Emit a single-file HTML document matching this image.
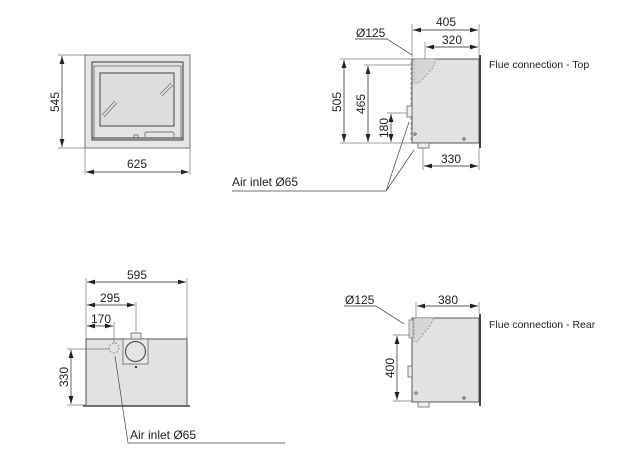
<!DOCTYPE html>
<html><head><style>
html,body{margin:0;padding:0;background:#fff;}
svg{display:block;}
text{font-family:"Liberation Sans","DejaVu Sans",sans-serif;fill:#222;}
.d{font-size:12px;}
.l{font-size:10.5px;}
.ai{font-size:12px;}
</style></head><body>
<svg width="624" height="460" viewBox="0 0 624 460" xmlns="http://www.w3.org/2000/svg">
<defs>
<marker id="a" viewBox="0 0 10 6" refX="10" refY="3" markerWidth="8" markerHeight="5" orient="auto-start-reverse" markerUnits="userSpaceOnUse"><path d="M0,0 L10,3 L0,6 z" fill="#222"/></marker>
</defs>
<g stroke="#333" stroke-width="0.7" fill="none">
<rect x="85" y="55" width="105" height="93" fill="#e6e6e6" stroke="#777" stroke-width="1"/>
<rect x="92" y="62" width="91" height="78" fill="#e0e0e0" stroke="#555" stroke-width="1.2"/>
<rect x="94" y="66" width="87" height="72" fill="#e4e4e4" stroke="#666" stroke-width="0.8"/>
<rect x="100" y="73" width="74" height="53" fill="#ddd" stroke="#555" stroke-width="1.1"/>
<path d="M102,115 L115,101 M104,117 L117,103 M160,94 L171,83 M162,96 L173,85" stroke="#666"/>
<path d="M92,138 H183" stroke="#555" stroke-width="1.2"/>
<path d="M145,137 V133 Q145,132 147,132 H172 Q174,132 174,134 V137" stroke="#555"/>
<rect x="134" y="135" width="4" height="3" stroke="#555"/>
<path d="M58,55 H85 M58,148 H85" stroke="#777"/>
<line x1="62" y1="56" x2="62" y2="147" stroke="#222" marker-start="url(#a)" marker-end="url(#a)"/>
<path d="M85,148 V175 M190,148 V175" stroke="#777"/>
<line x1="86" y1="172" x2="189" y2="172" stroke="#222" marker-start="url(#a)" marker-end="url(#a)"/>
<path d="M232,191 H386 L409,122 M386,191 L414,150" stroke="#444"/>
<rect x="412" y="59" width="67" height="84" fill="#e2e2e2" stroke="#555" stroke-width="1"/>
<path d="M414,59 H436 L433,68 L419,83 L414,83 Z" fill="#d6d6d6" stroke="#888" stroke-dasharray="2,1.5"/>
<line x1="480" y1="55" x2="480" y2="148" stroke="#444" stroke-width="2"/>
<line x1="411" y1="62" x2="411" y2="140" stroke="#888" stroke-dasharray="3,2"/>
<rect x="407" y="106" width="5" height="11" fill="#eee" stroke="#555"/>
<rect x="418" y="143" width="11" height="5" fill="#eee" stroke="#555"/>
<circle cx="415" cy="134" r="1.2"/><circle cx="464" cy="139" r="1.2"/>
<path d="M412,24 V57 M479,24 V57 M425,42 V59" stroke="#777"/>
<line x1="413" y1="30" x2="478" y2="30" stroke="#222" marker-start="url(#a)" marker-end="url(#a)"/>
<line x1="426" y1="47" x2="478" y2="47" stroke="#222" marker-start="url(#a)" marker-end="url(#a)"/>
<path d="M355,39 H387 L412,55" stroke="#333"/>
<path d="M340,59 H412 M364,65 H412 M387,113 H407 M340,143 H412" stroke="#777"/>
<line x1="344" y1="60" x2="344" y2="142" stroke="#222" marker-start="url(#a)" marker-end="url(#a)"/>
<line x1="368" y1="66" x2="368" y2="142" stroke="#222" marker-start="url(#a)" marker-end="url(#a)"/>
<line x1="391" y1="114" x2="391" y2="142" stroke="#222" marker-start="url(#a)" marker-end="url(#a)"/>
<path d="M423,148 V170 M479,148 V170" stroke="#777"/>
<line x1="424" y1="166" x2="478" y2="166" stroke="#222" marker-start="url(#a)" marker-end="url(#a)"/>
<rect x="86" y="339" width="101" height="67" fill="#e2e2e2" stroke="#555" stroke-width="1"/>
<line x1="83" y1="406" x2="190" y2="406" stroke="#444" stroke-width="1.5"/>
<rect x="123" y="339" width="25" height="25" fill="#e8e8e8" stroke="#555"/>
<circle cx="135.5" cy="351.5" r="10" fill="#e4e4e4" stroke="#555" stroke-width="1.2"/>
<rect x="131" y="333" width="10" height="6" fill="#e8e8e8" stroke="#555"/>
<circle cx="114" cy="348" r="5" stroke="#777" stroke-dasharray="2,1.5"/>
<circle cx="136" cy="367" r="0.8" fill="#333"/>
<path d="M86,278 V339 M187,278 V339 M136,302 V333 M114,322 V343" stroke="#777"/>
<line x1="87" y1="282" x2="186" y2="282" stroke="#222" marker-start="url(#a)" marker-end="url(#a)"/>
<line x1="87" y1="305" x2="135" y2="305" stroke="#222" marker-start="url(#a)" marker-end="url(#a)"/>
<line x1="87" y1="326" x2="113" y2="326" stroke="#222" marker-start="url(#a)" marker-end="url(#a)"/>
<path d="M67,349 H110 M67,405 H86" stroke="#777"/>
<line x1="71" y1="350" x2="71" y2="404" stroke="#222" marker-start="url(#a)" marker-end="url(#a)"/>
<path d="M285,443 H128 L115,356" stroke="#444"/>
<rect x="412" y="318" width="67" height="84" fill="#e2e2e2" stroke="#555" stroke-width="1"/>
<path d="M414,318 H434 L430,326 L417,342 L414,342 Z" fill="#d6d6d6" stroke="#888" stroke-dasharray="2,1.5"/>
<rect x="409" y="320" width="4" height="18" fill="#ddd" stroke="#777"/>
<line x1="480" y1="314" x2="480" y2="406" stroke="#444" stroke-width="2"/>
<rect x="408" y="366" width="4" height="11" fill="#eee" stroke="#555"/>
<rect x="418" y="402" width="11" height="5" fill="#eee" stroke="#555"/>
<circle cx="416" cy="393" r="1.2"/><circle cx="464" cy="398" r="1.2"/>
<path d="M416,302 V318 M479,302 V314" stroke="#777"/>
<line x1="417" y1="306" x2="478" y2="306" stroke="#222" marker-start="url(#a)" marker-end="url(#a)"/>
<path d="M344,306 H376 L404,324" stroke="#333"/>
<path d="M393,335 H410 M393,401 H412" stroke="#777"/>
<line x1="397" y1="336" x2="397" y2="400" stroke="#222" marker-start="url(#a)" marker-end="url(#a)"/>
</g>
<g>
<text class="d" x="137" y="168" text-anchor="middle">625</text>
<text class="d" transform="translate(59,102) rotate(-90)" text-anchor="middle">545</text>
<text class="ai" x="232" y="186">Air inlet Ø65</text>
<text class="d" x="446" y="26" text-anchor="middle">405</text>
<text class="d" x="452" y="44" text-anchor="middle">320</text>
<text class="d" x="356" y="37">Ø125</text>
<text class="d" transform="translate(341,102) rotate(-90)" text-anchor="middle">505</text>
<text class="d" transform="translate(365,104) rotate(-90)" text-anchor="middle">465</text>
<text class="d" transform="translate(388,128) rotate(-90)" text-anchor="middle">180</text>
<text class="d" x="451" y="163" text-anchor="middle">330</text>
<text class="l" x="489" y="68">Flue connection - Top</text>
<text class="d" x="137" y="279" text-anchor="middle">595</text>
<text class="d" x="110" y="302" text-anchor="middle">295</text>
<text class="d" x="101" y="323" text-anchor="middle">170</text>
<text class="d" transform="translate(68,377) rotate(-90)" text-anchor="middle">330</text>
<text class="ai" x="130" y="439">Air inlet Ø65</text>
<text class="d" x="448" y="304" text-anchor="middle">380</text>
<text class="d" x="345" y="304">Ø125</text>
<text class="d" transform="translate(394,368) rotate(-90)" text-anchor="middle">400</text>
<text class="l" x="489" y="328">Flue connection - Rear</text>
</g>
</svg>
</body></html>
